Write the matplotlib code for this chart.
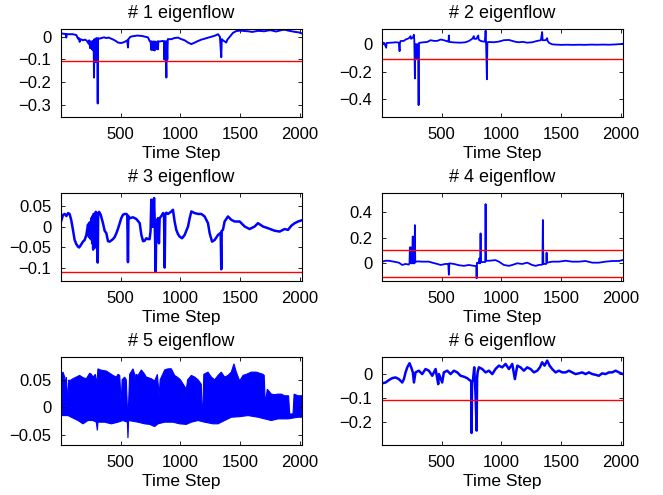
import matplotlib
matplotlib.use('Agg')
import matplotlib.pyplot as plt
from matplotlib.ticker import FuncFormatter

plt.rcParams['font.family'] = ['Liberation Sans', 'DejaVu Sans']

# threshold drawn as red lines
threshold = 0.108

# eigenflow 1
t1 = [1, 20, 40, 45, 50, 100, 130, 143, 150, 157, 165, 185, 200, 215, 232, 236, 245, 250, 260,
      265, 270, 274, 277, 280, 285, 288, 292, 296, 300, 304, 308, 311, 320, 340, 360, 380, 400,
      430, 450, 478, 500, 520, 540, 555, 561, 565, 580, 600, 640, 680, 710, 728, 742, 750, 756,
      759, 770, 773, 784, 787, 804, 807, 812, 815, 830, 850, 862, 865, 868, 873, 876, 882, 885,
      890, 894, 924, 950, 979, 1007, 1035, 1063, 1091, 1120, 1147, 1175, 1202, 1240, 1286, 1314,
      1330, 1341, 1345, 1355, 1369, 1383, 1392, 1411, 1439, 1467, 1500, 1537, 1565, 1600, 1648,
      1700, 1750, 1800, 1843, 1871, 1900, 1930, 1960, 1990, 2016]
v1 = [0.016, 0.014, 0.013, -0.003, 0.012, 0.012, 0.008, -0.008, -0.005, -0.022, -0.01, -0.015,
      -0.012, -0.016, -0.03, -0.015, -0.05, -0.02, -0.055, -0.018, -0.06, -0.02, -0.18, -0.01,
      -0.11, -0.02, -0.11, -0.005, -0.11, -0.01, -0.295, -0.005, -0.008, -0.005, -0.002, -0.005,
      -0.003, -0.01, -0.015, -0.025, -0.027, -0.025, -0.02, -0.015, -0.047, -0.01, 0.0, 0.003,
      0.006, 0.004, 0.0, -0.002, -0.018, -0.02, -0.058, -0.02, -0.058, -0.02, -0.06, -0.02,
      -0.055, -0.02, -0.055, -0.02, -0.02, -0.018, -0.02, -0.1, -0.02, -0.1, -0.02, -0.18, -0.02,
      -0.1, -0.01, -0.01, -0.005, -0.003, -0.01, -0.015, -0.025, -0.032, -0.025, -0.018, -0.012,
      -0.008, -0.002, 0.005, 0.012, 0.0, -0.09, -0.01, -0.015, -0.02, -0.025, -0.012, 0.0, 0.018,
      0.026, 0.028, 0.026, 0.025, 0.022, 0.027, 0.025, 0.03, 0.024, 0.03, 0.032, 0.028, 0.025,
      0.022, 0.02, 0.015]

# eigenflow 2
t2 = [1, 20, 37, 40, 80, 120, 143, 149, 152, 157, 185, 199, 215, 227, 241, 245, 260, 269, 272,
      277, 280, 285, 288, 292, 296, 300, 304, 308, 311, 324, 350, 380, 408, 436, 464, 492, 520,
      547, 558, 561, 564, 589, 620, 660, 700, 728, 756, 770, 773, 790, 807, 810, 826, 850, 862,
      868, 872, 879, 883, 900, 937, 979, 1020, 1063, 1091, 1120, 1147, 1180, 1216, 1258, 1300,
      1330, 1341, 1345, 1370, 1383, 1386, 1400, 1425, 1453, 1500, 1550, 1600, 1650, 1700, 1750,
      1800, 1850, 1900, 1950, 2000, 2016]
v2 = [0.012, 0.01, -0.025, 0.01, 0.012, 0.015, 0.012, -0.05, 0.01, 0.024, 0.025, 0.035, 0.04,
      0.045, 0.06, 0.04, 0.05, 0.07, 0.03, -0.25, 0.0, -0.1, 0.0, -0.1, 0.0, -0.1, 0.0, -0.445,
      0.01, 0.012, 0.015, 0.017, 0.03, 0.025, 0.025, 0.035, 0.03, 0.022, 0.02, 0.065, 0.018,
      0.015, 0.013, 0.012, 0.015, 0.024, 0.04, 0.06, 0.04, 0.04, 0.065, 0.035, 0.025, 0.02, 0.02,
      0.1, 0.02, -0.256, 0.015, 0.017, 0.015, 0.02, 0.03, 0.032, 0.025, 0.018, 0.015, 0.018,
      0.012, 0.015, 0.025, 0.03, 0.09, 0.03, 0.03, 0.045, 0.025, 0.01, 0.0, -0.002, -0.004,
      -0.003, -0.004, -0.003, -0.004, -0.002, -0.003, -0.002, -0.003, -0.001, 0.002, 0.005]

# eigenflow 3
t3 = [1, 10, 18, 32, 46, 60, 73, 87, 101, 115, 129, 143, 153, 165, 185, 199, 213, 227, 235, 241,
      250, 255, 262, 265, 270, 273, 282, 288, 292, 300, 308, 312, 319, 333, 352, 366, 380, 394,
      408, 422, 436, 450, 464, 478, 492, 505, 519, 533, 547, 555, 561, 565, 575, 603, 631, 659,
      673, 687, 701, 714, 728, 742, 750, 756, 760, 765, 770, 779, 784, 793, 798, 804, 812, 820,
      826, 840, 854, 862, 868, 873, 882, 896, 924, 937, 951, 965, 979, 993, 1013, 1035, 1063,
      1077, 1091, 1119, 1147, 1174, 1202, 1230, 1244, 1264, 1286, 1314, 1336, 1341, 1345, 1355,
      1369, 1397, 1425, 1453, 1495, 1537, 1578, 1620, 1648, 1690, 1732, 1787, 1829, 1871, 1899,
      1927, 1955, 1983, 2016]
v3 = [0.012, 0.02, 0.028, 0.03, 0.025, 0.032, 0.03, 0.015, -0.008, -0.032, -0.042, -0.048,
      -0.05, -0.045, -0.036, -0.032, -0.02, 0.005, -0.025, 0.01, -0.03, 0.02, -0.04, 0.025,
      -0.055, 0.03, 0.03, -0.05, 0.035, 0.03, -0.086, 0.03, 0.035, 0.028, 0.008, -0.01, -0.016,
      -0.035, -0.036, -0.033, -0.03, -0.025, -0.016, -0.005, 0.008, 0.02, 0.028, 0.03, 0.03,
      0.028, -0.085, 0.025, 0.02, 0.022, 0.018, 0.008, -0.02, -0.035, -0.034, -0.028, -0.03,
      -0.03, -0.01, 0.064, 0.0, 0.062, 0.0, 0.068, 0.02, -0.108, 0.015, 0.01, 0.02, -0.04, 0.02,
      0.025, 0.032, 0.03, -0.098, 0.03, 0.033, 0.03, 0.036, 0.04, 0.012, -0.008, -0.018, -0.024,
      -0.028, -0.02, 0.0, 0.02, 0.036, 0.032, 0.03, 0.03, 0.024, 0.008, -0.016, -0.036, -0.032,
      -0.02, -0.015, -0.102, -0.01, -0.008, 0.012, 0.024, 0.016, 0.012, 0.012, 0.0, -0.006, 0.0,
      0.008, 0.0, -0.004, -0.01, -0.012, -0.006, -0.008, 0.002, 0.008, 0.012, 0.015]

# eigenflow 4
t4 = [1, 32, 60, 101, 143, 171, 199, 225, 232, 235, 238, 243, 246, 255, 258, 262, 265, 274, 277,
      280, 296, 338, 394, 422, 464, 492, 533, 556, 561, 565, 603, 645, 687, 728, 770, 790, 793,
      796, 812, 817, 820, 823, 826, 829, 865, 868, 871, 896, 951, 979, 1021, 1063, 1091, 1133,
      1174, 1216, 1258, 1286, 1314, 1343, 1347, 1351, 1375, 1378, 1381, 1425, 1481, 1537, 1592,
      1648, 1704, 1760, 1815, 1871, 1927, 1983, 2016]
v4 = [0.013, 0.02, 0.02, 0.013, 0.005, -0.013, -0.005, -0.01, 0.0, 0.125, 0.0, 0.125, 0.0, 0.0,
      0.21, 0.21, 0.0, 0.0, 0.30, 0.01, 0.015, 0.013, 0.013, 0.005, -0.005, -0.013, -0.005,
      -0.005, -0.09, 0.0, -0.005, -0.015, -0.02, -0.013, -0.02, -0.02, -0.118, 0.005, 0.0, 0.04,
      0.0, 0.0, 0.235, 0.01, 0.01, 0.465, 0.02, 0.02, 0.025, 0.013, -0.013, -0.02, -0.013, 0.0,
      -0.005, 0.005, -0.013, -0.02, -0.013, -0.01, 0.34, -0.005, -0.005, 0.084, 0.005, 0.013,
      0.013, 0.02, 0.013, 0.013, 0.018, 0.005, 0.005, 0.013, 0.018, 0.018, 0.026]

# eigenflow 5: dense band, upper and lower edge
t5_hi = [1, 18, 32, 37, 46, 55, 60, 66, 73, 101, 129, 157, 185, 213, 241, 255, 269, 288, 300,
         310, 330, 352, 380, 408, 436, 464, 478, 492, 505, 512, 533, 547, 556, 565, 575, 603, 617,
         622, 628, 645, 673, 701, 714, 728, 756, 784, 807, 822, 830, 868, 896, 924, 951, 979,
         1000, 1049, 1060, 1091, 1119, 1147, 1174, 1180, 1188, 1195, 1230, 1258, 1286, 1314,
         1341, 1369, 1397, 1425, 1447, 1467, 1495, 1523, 1551, 1592, 1634, 1662, 1690, 1700,
         1709, 1726, 1760, 1787, 1815, 1843, 1871, 1904, 1913, 1941, 1950, 1983, 2016]
v5_hi = [0.06, 0.064, 0.055, 0.04, 0.055, 0.02, 0.021, 0.05, 0.048, 0.052, 0.055, 0.058, 0.054,
         0.052, 0.062, 0.06, 0.055, 0.06, 0.042, 0.07, 0.068, 0.067, 0.066, 0.062, 0.058, 0.055,
         0.06, 0.058, 0.004, 0.05, 0.055, 0.05, 0.0, 0.0, 0.06, 0.07, 0.06, 0.03, 0.06, 0.058,
         0.068, 0.06, 0.055, 0.054, 0.052, 0.048, 0.06, 0.02, 0.05, 0.068, 0.07, 0.07, 0.058,
         0.054, 0.05, 0.033, 0.05, 0.058, 0.055, 0.05, 0.042, 0.0, 0.0, 0.06, 0.064, 0.055, 0.05,
         0.058, 0.064, 0.055, 0.058, 0.064, 0.079, 0.064, 0.048, 0.058, 0.06, 0.064, 0.064,
         0.062, 0.06, 0.058, 0.006, 0.033, 0.024, 0.023, 0.024, 0.024, 0.021, 0.021, -0.012,
         -0.012, 0.024, 0.021, 0.021]
t5_lo = [1, 60, 87, 143, 185, 227, 269, 296, 305, 310, 366, 422, 478, 519, 556, 561, 566, 645,
         701, 742, 784, 812, 868, 937, 993, 1049, 1091, 1147, 1202, 1272, 1314, 1369, 1425, 1495,
         1565, 1648, 1704, 1760, 1815, 1899, 1983, 2016]
v5_lo = [-0.015, -0.015, -0.018, -0.024, -0.03, -0.024, -0.024, -0.027, -0.042, -0.027, -0.027,
         -0.03, -0.027, -0.024, -0.027, -0.056, -0.024, -0.027, -0.03, -0.031, -0.035, -0.03,
         -0.027, -0.027, -0.03, -0.031, -0.027, -0.024, -0.027, -0.03, -0.03, -0.024, -0.018,
         -0.017, -0.015, -0.018, -0.021, -0.024, -0.021, -0.021, -0.018, -0.018]

# eigenflow 6
t6 = [1, 32, 60, 87, 115, 143, 171, 185, 199, 213, 232, 246, 260, 269, 282, 310, 338, 366, 394,
      422, 450, 472, 478, 505, 519, 547, 575, 603, 631, 659, 687, 714, 734, 748, 751, 755, 762,
      773, 784, 793, 797, 801, 812, 840, 868, 896, 924, 951, 979, 1007, 1035, 1063, 1091, 1113,
      1133, 1160, 1188, 1216, 1244, 1272, 1300, 1322, 1341, 1361, 1383, 1403, 1425, 1453, 1481,
      1509, 1537, 1565, 1592, 1620, 1648, 1676, 1704, 1732, 1760, 1787, 1815, 1843, 1871, 1899,
      1927, 1955, 1983, 2016]
v6 = [-0.039, -0.035, -0.025, -0.017, -0.014, -0.021, -0.035, -0.021, 0.007, 0.028, 0.045, 0.028,
      0.007, -0.035, 0.007, 0.014, 0.0, 0.021, 0.014, -0.007, 0.021, -0.042, 0.0, -0.035, 0.007,
      0.014, 0.0, 0.014, 0.007, -0.007, -0.011, -0.017, -0.025, -0.03, -0.245, -0.03, -0.028,
      0.028, -0.084, -0.235, -0.02, 0.007, 0.028, 0.021, 0.007, 0.014, 0.0, 0.021, 0.035, 0.028,
      0.042, 0.021, 0.042, -0.021, 0.035, 0.028, 0.014, 0.028, 0.021, 0.007, 0.014, 0.028, 0.049,
      0.035, 0.056, 0.035, 0.021, 0.007, 0.014, 0.007, 0.007, 0.014, 0.007, 0.0, 0.003, 0.007,
      0.0, 0.007, 0.0, -0.003, -0.007, 0.003, 0.0, 0.007, 0.007, 0.014, 0.007, 0.0]

ylims = [(-0.355, 0.035), (-0.532, 0.112), (-0.13, 0.08),
         (-0.139, 0.552), (-0.0685, 0.0915), (-0.295, 0.071)]
yticks = [[-0.3, -0.2, -0.1, 0], [-0.4, -0.2, 0], [-0.1, -0.05, 0, 0.05],
          [0, 0.2, 0.4], [-0.05, 0, 0.05], [-0.2, -0.1, 0]]
# which red lines show in each panel
red_levels = [[-threshold], [-threshold], [-threshold],
              [threshold, -threshold], [], [-threshold]]
line_widths = [1.4, 1.3, 1.8, 1.3, 1.0, 1.8]


def fmt(v, pos):
    return ('%g' % v).replace('-', '\u2212')


fig = plt.figure(figsize=(6.63, 4.95), dpi=100)
lefts = [0.092, 0.576]
bottoms = [0.7636, 0.4323, 0.101]
axes = []
for i in range(6):
    ax = fig.add_axes([lefts[i % 2], bottoms[i // 2], 0.3635, 0.1778])
    axes.append(ax)

series = [(t1, v1), (t2, v2), (t3, v3), (t4, v4), None, (t6, v6)]
for i, ax in enumerate(axes):
    if i == 4:
        xs = t5_hi + t5_lo[::-1]
        ys = v5_hi + v5_lo[::-1]
        ax.fill(xs, ys, color='blue', lw=0.8)
    else:
        ax.plot(series[i][0], series[i][1], color='blue', lw=line_widths[i])
    for lev in red_levels[i]:
        ax.axhline(lev, color='red', lw=1.0)
    ax.set_xlim(1, 2016)
    ax.set_ylim(*ylims[i])
    ax.set_xticks([500, 1000, 1500, 2000])
    ax.set_yticks(yticks[i])
    ax.yaxis.set_major_formatter(FuncFormatter(fmt))
    ax.tick_params(direction='in', top=True, right=True, length=3, width=0.6,
                   labelsize=12, pad=7)
    for s in ax.spines.values():
        s.set_linewidth(0.8)
    ax.set_title('# %d eigenflow' % (i + 1), fontsize=13, pad=8)
    ax.set_xlabel('Time Step', fontsize=12.5, labelpad=3)

fig.savefig('out.png', dpi=100)
